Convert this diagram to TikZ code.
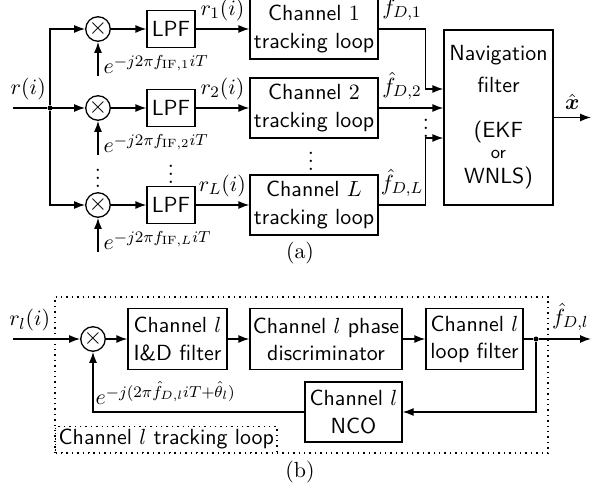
\documentclass[11pt,tikz,border=0pt]{standalone}
\usepackage{amsmath, amssymb}
\usepackage{tikz}
\usetikzlibrary{arrows.meta}

\begin{document}
\begin{tikzpicture}[x=0.5pt, y=-0.5pt, line width=0.65pt, >={Latex[length=5.5pt,width=4pt]},
  blk/.style={draw, font=\sffamily, align=center, inner sep=1pt},
  mixer/.style={draw, circle, inner sep=0pt, minimum size=12pt, font=\large},
  tap/.style={circle, fill, inner sep=0pt, minimum size=2.5pt},
  vdot/.style={inner sep=0pt},
  frame/.style={dotted, line width=0.7pt}]
\useasboundingbox (0,0) rectangle (598,490);

% (a) L channels into the navigation filter
\coordinate (rin) at (13,108);
\node[tap] (split) at (50,108) {};
\draw (rin) -- node[above, pos=0.45]{$r(i)$} (split);
\foreach \k/\y in {1/29, 2/108, L/205}{
  \node[mixer] (mix\k) at (98,\y) {$\times$};
  \node[blk, minimum width=24pt, minimum height=18.5pt] (lpf\k) at (171,\y) {LPF};
  \node[blk, minimum width=64pt, minimum height=30pt] (chan\k) at (314,\y) {Channel $\k$\\tracking loop};
  \coordinate (exp\k) at (98,\y+47);
  \node[anchor=base west, inner sep=1pt] (explbl\k) at (101,\y+45) {$e^{-j2\pi f_{\mathrm{IF},\k}iT}$};
  \draw[->] (split) |- (mix\k);
  \draw[->] (exp\k) -- (mix\k);
  \draw[->] (mix\k) -- (lpf\k);
  \draw[->] (lpf\k) -- node[above]{$r_{\k}(i)$} (chan\k);
}
\node[vdot] (dotsa) at (98,172) {$\vdots$};
\node[vdot] (dotsb) at (171,168) {$\vdots$};
\node[vdot] (dotsc) at (311,155) {$\vdots$};
\node[vdot] (dotsd) at (426,122) {$\vdots$};

\node[blk, minimum width=54.5pt, minimum height=87.5pt] (nav) at (498.5,117.5)
  {Navigation\\[2pt]filter\\[9pt](EKF\\[-3pt]{\footnotesize or}\\[-1pt]WNLS)};
\coordinate (nav1) at (nav.west |- 0,89);
\coordinate (nav2) at (nav.west |- 0,108);
\coordinate (navL) at (nav.west |- 0,138);
\coordinate (xout) at (591,117.5);
\draw[->] (chan1) -| node[pos=0.25, above]{$f_{D,1}$} ([xshift=-9pt]nav1) -- (nav1);
\draw[->] (chan2.east |- nav2) -- node[above, pos=0.36]{$\hat{f}_{D,2}$} (nav2);
\draw[->] (chanL) -| node[pos=0.25, above]{$\hat{f}_{D,L}$} ([xshift=-9pt]navL) -- (navL);
\draw[->] (nav) -- node[above]{$\hat{\boldsymbol{x}}$} (xout);
\node (capa) at (300,253) {(a)};

% (b) one tracking loop
\coordinate (loopsw) at (55,453);
\coordinate (loopne) at (548,297);
\draw[frame] (loopsw) rectangle (loopne);
\node[draw, frame, font=\sffamily, anchor=south west, inner sep=1.5pt] (looplbl) at (loopsw) {Channel $l$ tracking loop};

\node[mixer] (mixb) at (93,339) {$\times$};
\node[blk, minimum width=49.5pt, minimum height=30.5pt] (intdump) at (177.5,339) {Channel $l$\\I\&D filter};
\node[blk, minimum width=76pt, minimum height=30.5pt] (disc) at (326,339) {Channel $l$ phase\\discriminator};
\node[blk, minimum width=48.5pt, minimum height=30.5pt] (loopf) at (474.5,339) {Channel $l$\\loop filter};
\node[blk, minimum width=48.5pt, minimum height=30pt] (nco) at (353.5,412) {Channel $l$\\NCO};
\coordinate (rlin) at (13,339);
\node[tap] (fork) at (536,339) {};
\coordinate (fout) at (591,339);

\draw[->] (rlin) -- node[pos=0.25, above]{$r_l(i)$} (mixb);
\draw[->] (mixb) -- (intdump);
\draw[->] (intdump) -- (disc);
\draw[->] (disc) -- (loopf);
\draw (loopf) -- (fork);
\draw[->] (fork) -- node[above, pos=0.6]{$\hat{f}_{D,l}$} (fout);
\draw[->] (fork) |- (nco);
\draw[->] (nco) -| node[pos=0.5, anchor=base west, inner sep=1pt, yshift=3.5pt]{$e^{-j(2\pi\hat{f}_{D,l}iT+\hat{\theta}_l)}$} (mixb);
\node (capb) at (300,472) {(b)};
\end{tikzpicture}
\end{document}
